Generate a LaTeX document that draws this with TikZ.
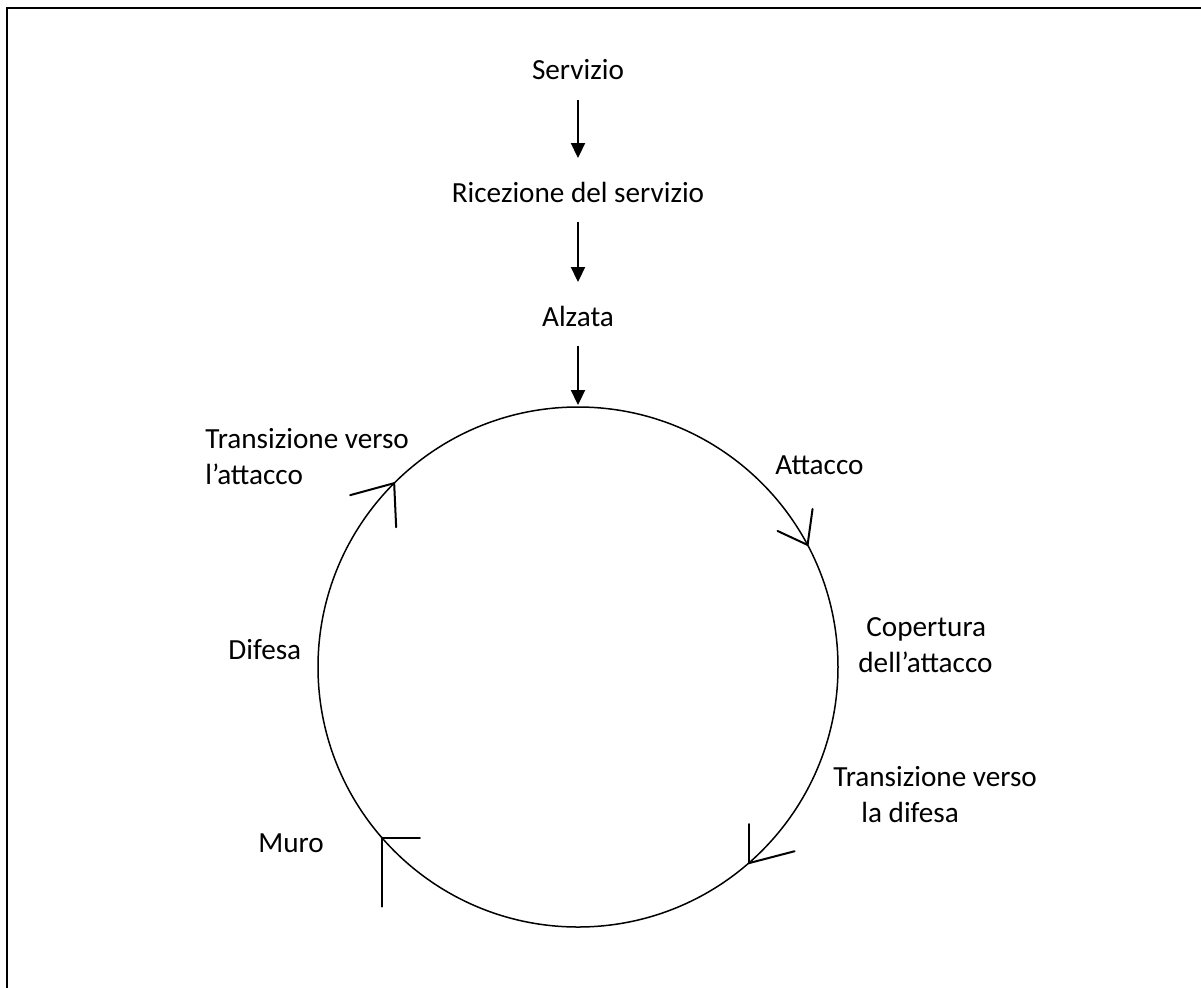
\documentclass[tikz,border=0pt]{standalone}
\usepackage{fontspec}
\setmainfont{Carlito}
\usetikzlibrary{arrows.meta}

\tikzset{
  lbl/.style={inner sep=0pt, font=\fontsize{14.6}{18}\selectfont},
  flow/.style={-{Triangle[length=7.5pt,width=7pt]}, line width=1.1pt},
  tip/.style={line width=1pt, line cap=round},
}

\begin{document}
\begin{tikzpicture}[x=0.5pt, y=-0.5pt]
    \clip (0,0) rectangle (1201,987);
    \draw[line width=1pt] (7,8) rectangle (1220,1010);

    % linear part
    \node[lbl] (serv) at (578, 70) {Servizio};
    \node[lbl] (ric) at (578,192) {Ricezione del servizio};
    \node[lbl] (alz) at (578,316) {Alzata};

    % the cycle
    \node[circle, draw, line width=0.75pt, minimum size=260pt, inner sep=0pt, outer sep=0pt] (ring) at (578,667) {};

    \draw[flow, shorten <=15pt, shorten >=17pt] (serv.center) -- (ric.center);
    \draw[flow, shorten <=15pt, shorten >=17pt] (ric.center) -- (alz.center);
    \draw[flow, shorten <=15pt, shorten >=1pt] (alz.center) -- (ring.north);

    \draw[tip] (ring.135.8) -- ++(-44,12);
    \draw[tip] (ring.135.8) -- ++(2,44);
    \draw[tip] (ring.28.9) -- ++(-30,-14);
    \draw[tip] (ring.28.9) -- ++(5,-36);
    \draw[tip] (ring.-49.4) -- ++(0,-39);
    \draw[tip] (ring.-49.4) -- ++(46,-12);
    \draw[tip] (ring.221.1) -- ++(38,0);
    \draw[tip] (ring.221.1) -- ++(0,69);

    % stages round the cycle
    \node[lbl, anchor=west, align=left] (trans1) at (205,457) {Transizione verso\\l'attacco};
    \node[lbl, anchor=west] (att) at (775,465) {Attacco};
    \node[lbl, anchor=west, align=left] (cop) at (858,645) {\hspace{4pt}Copertura\\dell'attacco};
    \node[lbl, anchor=west, align=left] (trans2) at (833,795) {Transizione verso\\\hspace{14pt}la difesa};
    \node[lbl, anchor=west] (dif) at (228,650) {Difesa};
    \node[lbl, anchor=west] (muro) at (258,843) {Muro};
\end{tikzpicture}
\end{document}
